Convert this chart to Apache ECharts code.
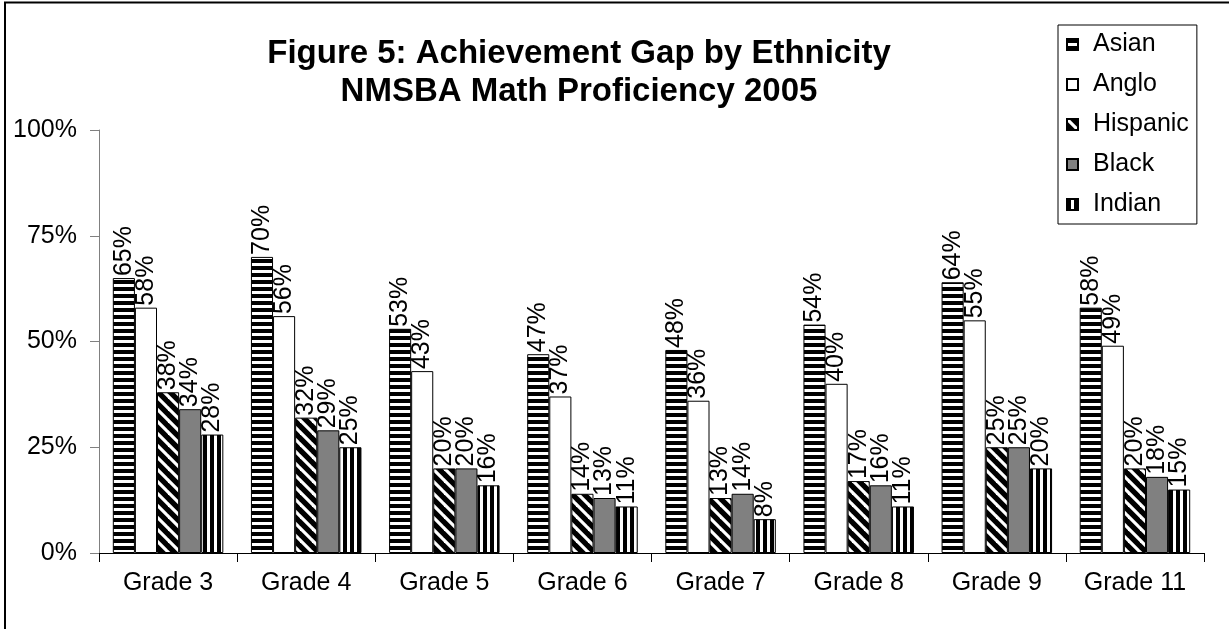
<!DOCTYPE html>
<html>
<head>
<meta charset="utf-8">
<script src="https://cdn.jsdelivr.net/npm/echarts@6/dist/echarts.min.js"></script>
<style>
  html, body { margin: 0; padding: 0; background: #fff; }
  #chart { width: 1229px; height: 629px; }
</style>
</head>
<body>
<div id="chart"></div>
<script>
// Percent of students proficient in math, by grade and ethnicity
const categories = ['Grade 3', 'Grade 4', 'Grade 5', 'Grade 6', 'Grade 7', 'Grade 8', 'Grade 9', 'Grade 11'];
const asian    = [65, 70, 53, 47, 48, 54, 64, 58];
const anglo    = [58, 56, 43, 37, 36, 40, 55, 49];
const hispanic = [38, 32, 20, 14, 13, 17, 25, 20];
const black    = [34, 29, 20, 13, 14, 16, 25, 18];
const indian   = [28, 25, 16, 11, 8, 11, 20, 15];
const yTicks   = [0, 25, 50, 75, 100];

const FONT = 'Arial, "Liberation Sans", sans-serif';

// Small repeating tiles used as bar fills
function tile(w, h, draw) {
  const c = document.createElement('canvas');
  c.width = w; c.height = h;
  const ctx = c.getContext('2d');
  draw(ctx, w, h);
  return { image: c, repeat: 'repeat' };
}
const hStripes = tile(7, 7, (ctx, w, h) => {
  ctx.fillStyle = '#fff'; ctx.fillRect(0, 0, w, h);
  ctx.fillStyle = '#000'; ctx.fillRect(0, 0, w, 4);
});
const vStripes = tile(7, 7, (ctx, w, h) => {
  ctx.fillStyle = '#fff'; ctx.fillRect(0, 0, w, h);
  ctx.fillStyle = '#000'; ctx.fillRect(0, 0, 4, h);
});
const diagStripes = tile(12, 12, (ctx, w, h) => {
  ctx.fillStyle = '#000'; ctx.fillRect(0, 0, w, h);
  ctx.strokeStyle = '#fff'; ctx.lineWidth = 3.2;
  for (let k = -1; k <= 1; k++) {
    ctx.beginPath();
    ctx.moveTo(-2, k * h - 2);
    ctx.lineTo(w + 2, k * h + h + 2);
    ctx.stroke();
  }
});

const labelStyle = {
  show: true,
  position: 'top',
  rotate: 90,
  align: 'left',
  verticalAlign: 'middle',
  distance: 2,
  fontFamily: FONT,
  fontSize: 25,
  color: '#000',
  formatter: '{c}%'
};

function barSeries(name, data, fill) {
  return {
    name: name,
    type: 'bar',
    data: data,
    barGap: '0%',
    barCategoryGap: '20%',
    itemStyle: { color: fill, borderColor: '#000', borderWidth: 1 },
    label: labelStyle,
    emphasis: { disabled: true }
  };
}

const chart = echarts.init(document.getElementById('chart'), null, { renderer: 'canvas' });
chart.setOption({
  animation: false,
  backgroundColor: '#fff',
  textStyle: { fontFamily: FONT },
  title: {
    text: 'Figure 5: Achievement Gap by Ethnicity\nNMSBA Math Proficiency 2005',
    left: 574,
    top: 30,
    textAlign: 'center',
    textStyle: { fontFamily: FONT, fontSize: 33, fontWeight: 'bold', color: '#000', lineHeight: 38 }
  },
  legend: {
    orient: 'vertical',
    left: 1058,
    top: 25,
    padding: [7, 8, 7, 8],
    itemGap: 15,
    itemWidth: 11,
    itemHeight: 11,
    icon: 'rect',
    backgroundColor: '#fff',
    borderColor: '#000',
    borderWidth: 1,
    borderRadius: 0,
    textStyle: { fontFamily: FONT, fontSize: 25, color: '#000', padding: [0, 0, 0, 10] },
    data: ['Asian', 'Anglo', 'Hispanic', 'Black', 'Indian']
  },
  grid: { left: 99, right: 25, top: 130, bottom: 76, containLabel: false },
  xAxis: {
    type: 'category',
    data: categories,
    axisLine: { lineStyle: { color: '#000', width: 1 } },
    axisTick: { show: true, length: 9, lineStyle: { color: '#000' } },
    axisLabel: { fontFamily: FONT, fontSize: 25, color: '#000', margin: 18 }
  },
  yAxis: {
    type: 'value',
    min: yTicks[0],
    max: yTicks[yTicks.length - 1],
    interval: 25,
    splitLine: { show: false },
    axisLine: { show: true, lineStyle: { color: '#808080', width: 1 } },
    axisTick: { show: true, length: 9, lineStyle: { color: '#808080' } },
    axisLabel: { fontFamily: FONT, fontSize: 25, color: '#000', margin: 22, formatter: '{value}%' }
  },
  graphic: [{
    type: 'rect',
    shape: { x: 5, y: 2.5, width: 1400, height: 900 },
    style: { fill: 'none', stroke: '#000', lineWidth: 2 },
    silent: true,
    z: 100
  }],
  series: [
    barSeries('Asian', asian, hStripes),
    barSeries('Anglo', anglo, '#fff'),
    barSeries('Hispanic', hispanic, diagStripes),
    barSeries('Black', black, '#808080'),
    barSeries('Indian', indian, vStripes)
  ]
});
</script>
</body>
</html>
